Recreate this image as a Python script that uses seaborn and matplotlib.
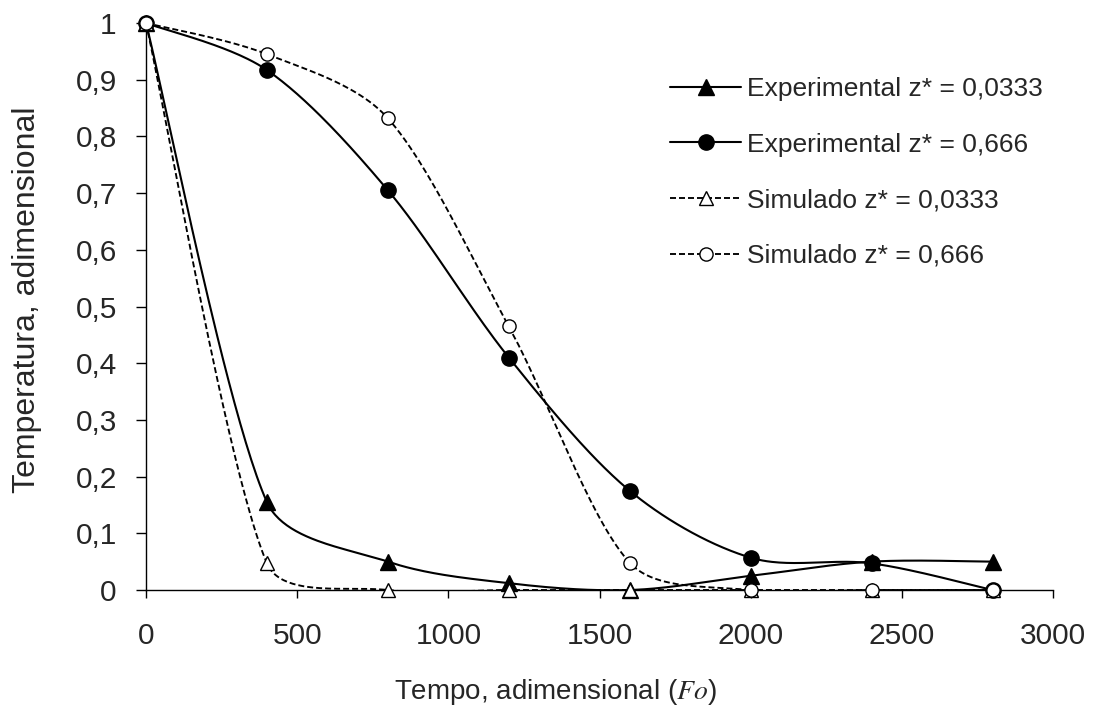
import numpy as np
import pandas as pd
import matplotlib
matplotlib.use("Agg")
import matplotlib.pyplot as plt
from matplotlib.lines import Line2D
import seaborn as sns

# ---- data ----
tempo = [0, 400, 800, 1200, 1600, 2000, 2400, 2800]
exp_0333 = [1.0, 0.155, 0.050, 0.012, 0.0, 0.025, 0.050, 0.050]
exp_0666 = [1.0, 0.917, 0.705, 0.410, 0.175, 0.057, 0.047, 0.0]
sim_0333 = [1.0, 0.047, 0.0, 0.0, 0.0, 0.0, 0.0, 0.0]
sim_0666 = [1.0, 0.945, 0.832, 0.465, 0.048, 0.0, 0.0, 0.0]
labels = ["Experimental z* = 0,0333", "Experimental z* = 0,666",
          "Simulado z* = 0,0333", "Simulado z* = 0,666"]
xticks = [0, 500, 1000, 1500, 2000, 2500, 3000]
yticks = [0, 0.1, 0.2, 0.3, 0.4, 0.5, 0.6, 0.7, 0.8, 0.9, 1.0]
ytick_labels = ["0", "0,1", "0,2", "0,3", "0,4", "0,5", "0,6", "0,7", "0,8", "0,9", "1"]

W, H = 1094, 711
AX_L, AX_R, AX_T, AX_B = 146, 1053, 23, 590   # axes box in pixels
SX = (AX_R - AX_L) / 3000.0
SY = (AX_B - AX_T) / 1.0


def smooth(x, y, n=50):
    """Spreadsheet-style smoothed line: Bezier segments whose control arms are
    1/6 of the neighbour chord, scaled by the relative segment lengths (in pixels)."""
    P = np.column_stack([np.asarray(x, float) * SX, np.asarray(y, float) * SY])
    m = len(P)
    out = []
    for i in range(m - 1):
        p0 = P[i - 1] if i > 0 else P[i]
        p1, p2 = P[i], P[i + 1]
        p3 = P[i + 2] if i + 2 < m else P[i + 1]
        d01 = np.linalg.norm(p1 - p0)
        d12 = np.linalg.norm(p2 - p1)
        d23 = np.linalg.norm(p3 - p2)
        f1 = min(1.0, 2 * d12 / (d01 + d12)) if d01 + d12 > 0 else 1.0
        f2 = min(1.0, 2 * d12 / (d12 + d23)) if d12 + d23 > 0 else 1.0
        b1 = p1 + (p2 - p0) / 6 * f1
        b2 = p2 - (p3 - p1) / 6 * f2
        t = np.linspace(0, 1, n)[:, None]
        seg = ((1 - t) ** 3) * p1 + 3 * ((1 - t) ** 2) * t * b1 + 3 * (1 - t) * t ** 2 * b2 + t ** 3 * p2
        out.append(seg if i == 0 else seg[1:])
    s = np.vstack(out)
    return s[:, 0] / SX, s[:, 1] / SY


sns.set_style("ticks")
plt.rcParams["font.family"] = ["Liberation Sans", "DejaVu Sans"]
plt.rcParams["mathtext.fontset"] = "stix"

fig = plt.figure(figsize=(W / 100, H / 100), dpi=100)
ax = fig.add_axes([AX_L / W, 1 - AX_B / H, (AX_R - AX_L) / W, (AX_B - AX_T) / H])

dash = (0, (3.2, 1.6))
series = [
    (exp_0333, "-", dict(marker="^", ms=11, mfc="black", mec="black")),
    (exp_0666, "-", dict(marker="o", ms=11, mfc="black", mec="black")),
    (sim_0333, dash, dict(marker="^", ms=9.5, mfc="white", mec="black", mew=1.0)),
    (sim_0666, dash, dict(marker="o", ms=9.5, mfc="white", mec="black", mew=1.0)),
]

handles = []
for (vals, ls, mk), lab in zip(series, labels):
    sx, sy = smooth(tempo, vals)
    df = pd.DataFrame({"x": sx, "y": sy})
    lw = 1.5 if ls == "-" else 1.35
    sns.lineplot(data=df, x="x", y="y", ax=ax, color="black", sort=False,
                 estimator=None, linewidth=lw, linestyle=ls, legend=False)
    ax.plot(tempo, vals, linestyle="none", clip_on=False, zorder=5, **mk)
    handles.append(Line2D([], [], color="black", linewidth=lw, linestyle=ls, **mk))

ax.set_xlim(0, 3000)
ax.set_ylim(0, 1)
ax.set_xticks(xticks)
ax.set_xticklabels([str(v) for v in xticks])
ax.set_yticks(yticks)
ax.set_yticklabels(ytick_labels)
ax.tick_params(axis="both", labelsize=21.5, width=1, color="black", direction="out")
ax.tick_params(axis="x", length=6, pad=17)
ax.tick_params(axis="y", length=7, pad=14)
for side in ["top", "right"]:
    ax.spines[side].set_visible(False)
for side in ["left", "bottom"]:
    ax.spines[side].set_color("black")
    ax.spines[side].set_linewidth(1.0)

ax.set_xlabel(r"Tempo, adimensional ($Fo$)", fontsize=20)
ax.xaxis.set_label_coords((555 - AX_L) / (AX_R - AX_L), (AX_B - 677) / (AX_B - AX_T))
ax.set_ylabel("Temperatura, adimensional", fontsize=23)
ax.yaxis.set_label_coords((42 - AX_L) / (AX_R - AX_L), (AX_B - 300) / (AX_B - AX_T))

leg = ax.legend(handles, labels, loc="upper left",
                bbox_to_anchor=(670 / W, 1 - 77 / H), bbox_transform=fig.transFigure,
                frameon=False, fontsize=19, handlelength=2.7, handletextpad=0.22,
                labelspacing=1.2, numpoints=1, borderpad=0, borderaxespad=0)

fig.savefig("out.png", dpi=100)
